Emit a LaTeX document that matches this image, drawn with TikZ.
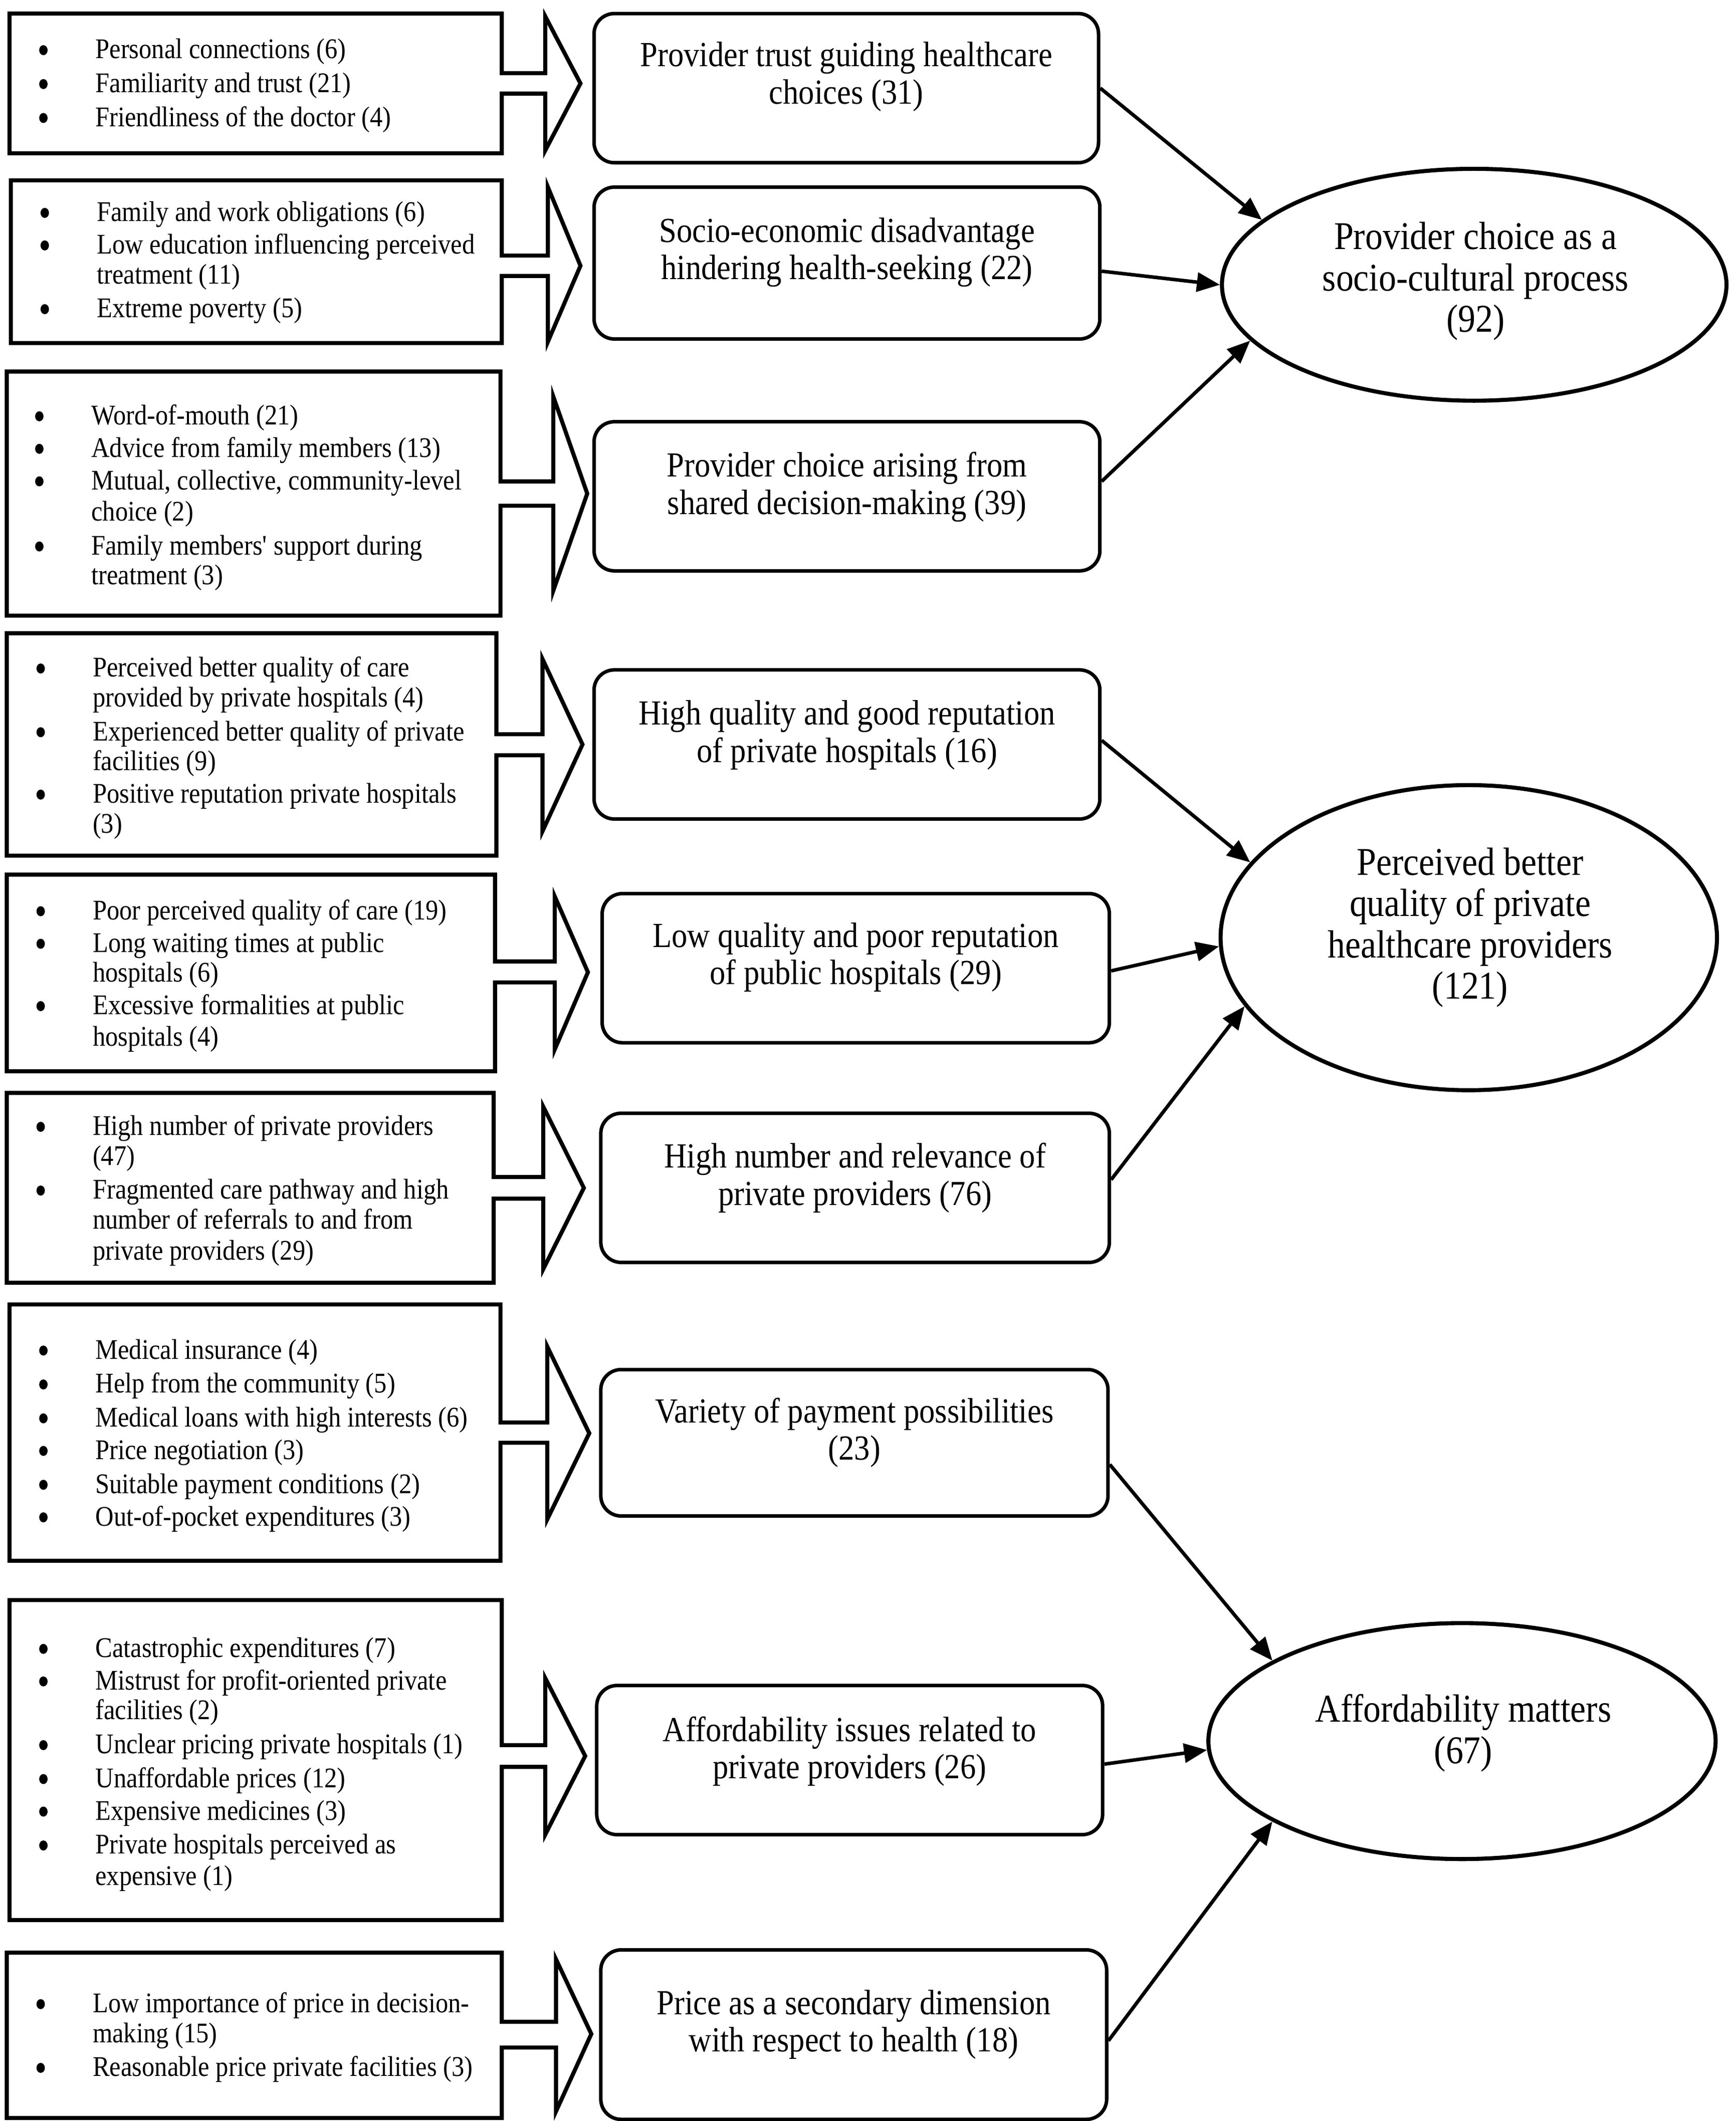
\documentclass[tikz,border=0pt]{standalone}
\usepackage{fontspec}
\setmainfont{Liberation Serif}[FakeStretch=0.89]
\usetikzlibrary{arrows.meta,calc,shapes.geometric}
\newcommand\bitem[4]{\node[bul] (#1b) at (#2-38,#3) {}; \node[ltext] (#1) at (#2,#3) {#4};}
\newcommand\citem[4]{\node[ltext] (#1) at (#2,#3) {#4};}
\begin{document}
\begin{tikzpicture}[x=0.5pt,y=-0.5pt,
  box/.style={draw, line width=1.5pt, line join=miter},
  mainbox/.style={draw, rectangle, rounded corners=7.5pt, line width=1.3pt, inner sep=0pt},
  oval/.style={draw, ellipse, line width=1.5pt, inner sep=0pt},
  ltext/.style={anchor=mid west, inner sep=0pt, yshift=-0.8pt, font=\fontsize{10.5}{12.25}\selectfont},
  bul/.style={ellipse, fill=black, inner sep=0pt, minimum width=3.1pt, minimum height=3.7pt},
  mtext/.style={align=center, inner sep=0pt, yshift=-0.8pt, font=\fontsize{13}{13.75}\selectfont},
  etext/.style={align=center, inner sep=0pt, yshift=-0.5pt, font=\fontsize{14.5}{15.25}\selectfont},
  conn/.style={-{Triangle[length=8.5pt,width=7pt]}, line width=1.3pt}]
\useasboundingbox[fill=white] (0,0) rectangle (1280,1564.2);

% ---------- left callout boxes ----------
\draw[box] (7,10) -- (370,10) -- (370,54) -- (402,54) -- (402,12) -- (428,61.5) -- (402,111) -- (402,69) -- (370,69) -- (370,113) -- (7,113) -- cycle;
\draw[box] (8,133) -- (370,133) -- (370,188.5) -- (404,188.5) -- (404,138) -- (428,196) -- (404,252) -- (404,203.5) -- (370,203.5) -- (370,253) -- (8,253) -- cycle;
\draw[box] (5,274) -- (369,274) -- (369,355) -- (408,355) -- (408,292.5) -- (433,364) -- (408,435.5) -- (408,373) -- (369,373) -- (369,454) -- (5,454) -- cycle;
\draw[box] (5,467) -- (366,467) -- (366,541.5) -- (400,541.5) -- (400,486) -- (429.5,549) -- (400,613) -- (400,557) -- (366,557) -- (366,631) -- (5,631) -- cycle;
\draw[box] (5,645) -- (365,645) -- (365,709) -- (409,709) -- (409,661) -- (433.5,717) -- (409,774) -- (409,724.5) -- (365,724.5) -- (365,790) -- (5,790) -- cycle;
\draw[box] (5,806) -- (364,806) -- (364,868) -- (400.5,868) -- (400.5,816) -- (430.5,876) -- (400.5,936) -- (400.5,884) -- (364,884) -- (364,946) -- (5,946) -- cycle;
\draw[box] (7,962) -- (369,962) -- (369,1049) -- (403.5,1049) -- (403.5,993) -- (434.5,1057) -- (403.5,1120.5) -- (403.5,1064) -- (369,1064) -- (369,1151) -- (7,1151) -- cycle;
\draw[box] (7,1180) -- (370,1180) -- (370,1287) -- (402,1287) -- (402,1237.5) -- (431.5,1295) -- (402,1353) -- (402,1303) -- (370,1303) -- (370,1416) -- (7,1416) -- cycle;
\draw[box] (5,1440) -- (370,1440) -- (370,1491) -- (410,1491) -- (410,1445) -- (436,1500) -- (410,1557) -- (410,1510) -- (370,1510) -- (370,1562) -- (5,1562) -- cycle;

% ---------- left texts ----------
\bitem{a1}{70}{37}{Personal connections (6)}
\bitem{a2}{70}{62}{Familiarity and trust (21)}
\bitem{a3}{70}{87}{Friendliness of the doctor (4)}

\bitem{b1}{71}{157}{Family and work obligations (6)}
\bitem{b2}{71}{181}{Low education influencing perceived}
\citem{b2c}{71}{203}{treatment (11)}
\bitem{b3}{71}{228}{Extreme poverty (5)}

\bitem{c1}{67}{307}{Word-of-mouth (21)}
\bitem{c2}{67}{331}{Advice from family members (13)}
\bitem{c3}{67}{355}{Mutual, collective, community-level}
\citem{c3c}{67}{378}{choice (2)}
\bitem{c4}{67}{403}{Family members\textquotesingle{} support during}
\citem{c4c}{67}{425}{treatment (3)}

\bitem{d1}{68}{493}{Perceived better quality of care}
\citem{d1c}{68}{515}{provided by private hospitals (4)}
\bitem{d2}{68}{540}{Experienced better quality of private}
\citem{d2c}{68}{562}{facilities (9)}
\bitem{d3}{68}{586}{Positive reputation private hospitals}
\citem{d3c}{68}{608}{(3)}

\bitem{e1}{68}{672}{Poor perceived quality of care (19)}
\bitem{e2}{68}{696}{Long waiting times at public}
\citem{e2c}{68}{718}{hospitals (6)}
\bitem{e3}{68}{742}{Excessive formalities at public}
\citem{e3c}{68}{765}{hospitals (4)}

\bitem{f1}{68}{831}{High number of private providers}
\citem{f1c}{68}{853}{(47)}
\bitem{f2}{68}{878}{Fragmented care pathway and high}
\citem{f2c}{68}{900}{number of referrals to and from}
\citem{f2d}{68}{923}{private providers (29)}

\bitem{g1}{70}{996}{Medical insurance (4)}
\bitem{g2}{70}{1021}{Help from the community (5)}
\bitem{g3}{70}{1046}{Medical loans with high interests (6)}
\bitem{g4}{70}{1070}{Price negotiation (3)}
\bitem{g5}{70}{1095}{Suitable payment conditions (2)}
\bitem{g6}{70}{1119}{Out-of-pocket expenditures (3)}

\bitem{h1}{70}{1216}{Catastrophic expenditures (7)}
\bitem{h2}{70}{1240}{Mistrust for profit-oriented private}
\citem{h2c}{70}{1262}{facilities (2)}
\bitem{h3}{70}{1287}{Unclear pricing private hospitals (1)}
\bitem{h4}{70}{1312}{Unaffordable prices (12)}
\bitem{h5}{70}{1336}{Expensive medicines (3)}
\bitem{h6}{70}{1361}{Private hospitals perceived as}
\citem{h6c}{70}{1384}{expensive (1)}

\bitem{i1}{68}{1478}{Low importance of price in decision-}
\citem{i1c}{68}{1500}{making (15)}
\bitem{i2}{68}{1525}{Reasonable price private facilities (3)}

% ---------- main boxes ----------
\node[mainbox, minimum width=186pt, minimum height=55pt] (M1) at (624,65) {};
\node[mainbox, minimum width=186.5pt, minimum height=56pt] (M2) at (624.5,194) {};
\node[mainbox, minimum width=186.5pt, minimum height=55pt] (M3) at (624.5,366) {};
\node[mainbox, minimum width=186.5pt, minimum height=55pt] (M4) at (624.5,549) {};
\node[mainbox, minimum width=187pt, minimum height=55pt] (M5) at (631,714) {};
\node[mainbox, minimum width=187.5pt, minimum height=55pt] (M6) at (630.5,876) {};
\node[mainbox, minimum width=187pt, minimum height=54pt] (M7) at (630,1064) {};
\node[mainbox, minimum width=186.5pt, minimum height=55pt] (M8) at (626.5,1298) {};
\node[mainbox, minimum width=186.5pt, minimum height=62.5pt] (M9) at (629.5,1500.5) {};

\node[mtext] (M1t) at (624,55) {Provider trust guiding healthcare\\choices (31)};
\node[mtext] (M2t) at (624.5,184.5) {Socio-economic disadvantage\\hindering health-seeking (22)};
\node[mtext] (M3t) at (624.5,357.5) {Provider choice arising from\\shared decision-making (39)};
\node[mtext] (M4t) at (624.5,540.5) {High quality and good reputation\\of private hospitals (16)};
\node[mtext] (M5t) at (631,704.5) {Low quality and poor reputation\\of public hospitals (29)};
\node[mtext] (M6t) at (630.5,867) {High number and relevance of\\private providers (76)};
\node[mtext] (M7t) at (630,1055) {Variety of payment possibilities\\(23)};
\node[mtext] (M8t) at (626.5,1290) {Affordability issues related to\\private providers (26)};
\node[mtext] (M9t) at (629.5,1491.5) {Price as a secondary dimension\\with respect to health (18)};

% ---------- ellipses ----------
\node[oval, minimum width=186pt, minimum height=85.5pt] (E1) at (1087,210) {};
\node[oval, minimum width=183pt, minimum height=112.5pt] (E2) at (1083,691.5) {};
\node[oval, minimum width=187pt, minimum height=87pt] (E3) at (1078,1284) {};

\node[etext] (E1t) at (1088,206.5) {Provider choice as a\\socio-cultural process\\(92)};
\node[etext] (E2t) at (1084,683) {Perceived better\\quality of private\\healthcare providers\\(121)};
\node[etext] (E3t) at (1079,1277) {Affordability matters\\(67)};

% ---------- connectors ----------
\draw[conn] (M1.east) -- (E1.163);
\draw[conn] ($(M2.east)+(0,6)$) -- (E1.180);
\draw[conn] ($(M3.east)+(0,-11)$) -- (E1.194);
\draw[conn] ($(M4.east)+(0,-3)$) -- (E2.161);
\draw[conn] ($(M5.east)+(0,2)$) -- (E2.182);
\draw[conn] ($(M6.east)+(0,-6)$) -- (E2.197);
\draw[conn] ($(M7.east)+(0,16)$) -- (E3.157);
\draw[conn] ($(M8.east)+(0,3)$) -- (E3.182);
\draw[conn] ($(M9.east)+(0,4.5)$) -- (E3.203);
\end{tikzpicture}
\end{document}
